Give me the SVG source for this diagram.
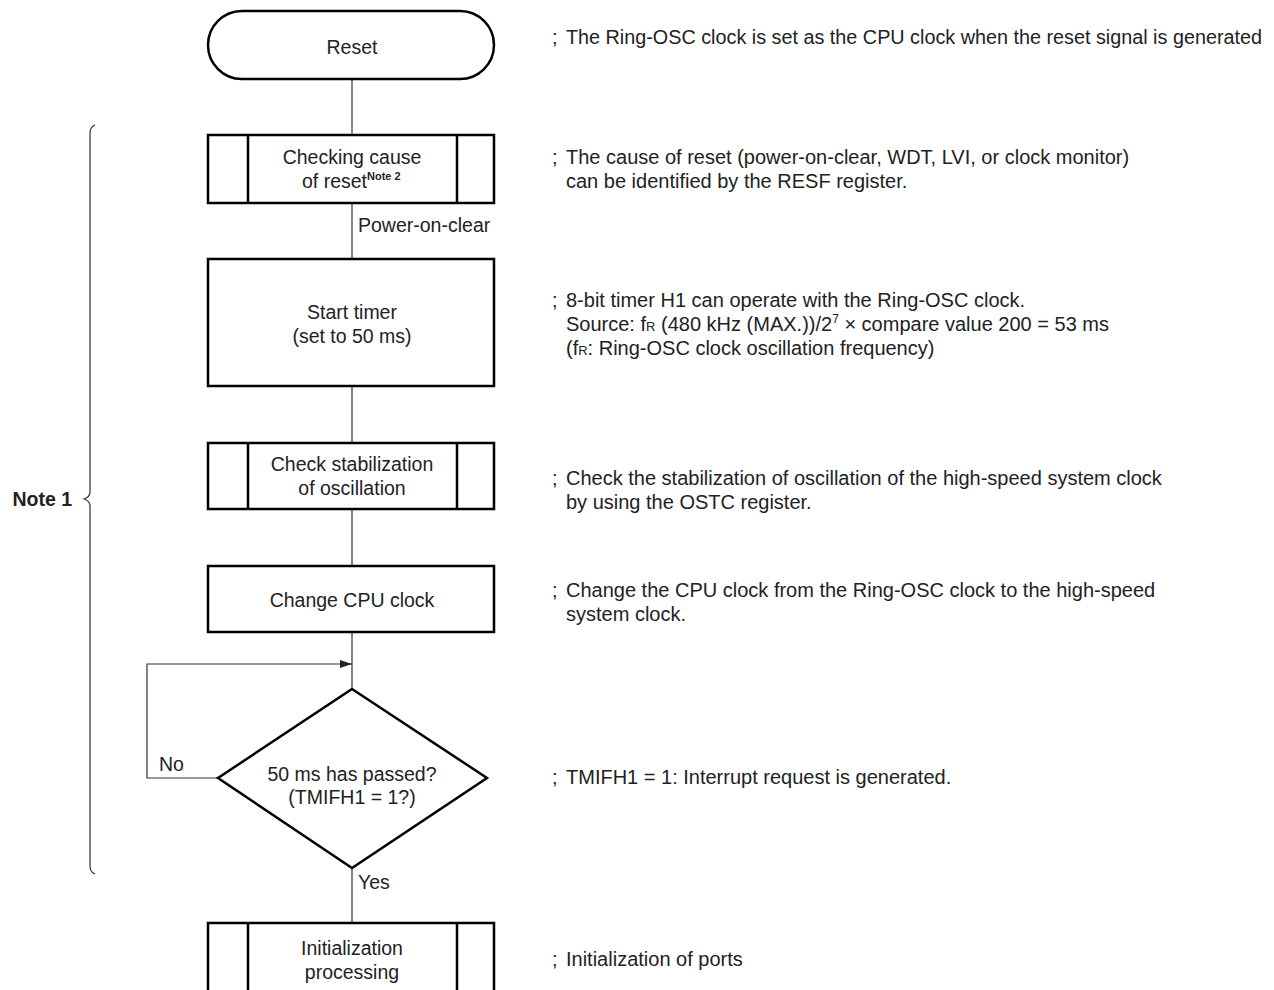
<svg xmlns="http://www.w3.org/2000/svg" width="1274" height="990" viewBox="0 0 1274 990">
<style>
.box{fill:#fff;stroke:#000;stroke-width:2.5}
.in{stroke:#000;stroke-width:2.5}
.ln{fill:none;stroke:#333;stroke-width:1.2}
text{font-family:"Liberation Sans",Arial,sans-serif;font-size:19.5px;fill:#222}
#comments text{font-size:20px}
.c{text-anchor:middle}
.b{font-weight:bold}
</style>
<defs>
<marker id="ah" markerWidth="12" markerHeight="8" refX="12" refY="4" orient="auto" markerUnits="userSpaceOnUse">
<path d="M0,0 L12,4 L0,8 Z" fill="#222"/>
</marker>
</defs>
<g id="connectors">
<path class="ln" d="M352,79 V135"/>
<path class="ln" d="M352,203 V259"/>
<path class="ln" d="M352,386 V443"/>
<path class="ln" d="M352,509 V566"/>
<path class="ln" d="M352,632 V689"/>
<path class="ln" d="M218,778 H147 V664 H352" marker-end="url(#ah)"/>
<path class="ln" d="M352,868 V923"/>
<text x="358" y="232">Power-on-clear</text>
<text x="159" y="771">No</text>
<text x="358" y="889">Yes</text>
</g>
<g id="reset">
<rect class="box" x="208" y="11" width="286" height="68" rx="34" ry="34"/>
<text class="c" x="352" y="54">Reset</text>
</g>
<g id="checking">
<rect class="box" x="208" y="135" width="286" height="68"/>
<line class="in" x1="248" y1="135" x2="248" y2="203"/>
<line class="in" x1="457" y1="135" x2="457" y2="203"/>
<text class="c" x="352" y="164">Checking cause</text>
<text x="302" y="188">of reset<tspan class="b" font-size="11" dy="-8">Note 2</tspan></text>
</g>
<g id="starttimer">
<rect class="box" x="208" y="259" width="286" height="127"/>
<text class="c" x="352" y="319">Start timer</text>
<text class="c" x="352" y="343">(set to 50 ms)</text>
</g>
<g id="checkstab">
<rect class="box" x="208" y="443" width="286" height="66"/>
<line class="in" x1="248" y1="443" x2="248" y2="509"/>
<line class="in" x1="457" y1="443" x2="457" y2="509"/>
<text class="c" x="352" y="471">Check stabilization</text>
<text class="c" x="352" y="495">of oscillation</text>
</g>
<g id="changecpu">
<rect class="box" x="208" y="566" width="286" height="66"/>
<text class="c" x="352" y="607">Change CPU clock</text>
</g>
<g id="decision">
<polygon class="box" points="352,689 487,778 352,868 218,778"/>
<text class="c" x="352" y="781">50 ms has passed?</text>
<text class="c" x="352" y="804">(TMIFH1 = 1?)</text>
</g>
<g id="init">
<rect class="box" x="208" y="923" width="286" height="80"/>
<line class="in" x1="248" y1="923" x2="248" y2="1003"/>
<line class="in" x1="457" y1="923" x2="457" y2="1003"/>
<text class="c" x="352" y="955">Initialization</text>
<text class="c" x="352" y="979">processing</text>
</g>
<g id="note1">
<path class="ln" d="M95,125 Q90,127 90,133 V492 Q90,497 84,499 Q90,501 90,506 V866 Q90,872 95,874"/>
<text class="b" x="72" y="506" font-size="17" text-anchor="end">Note 1</text>
</g>
<g id="comments">
<text x="552" y="44">;  <tspan x="566" textLength="696" lengthAdjust="spacingAndGlyphs">The Ring-OSC clock is set as the CPU clock when the reset signal is generated</tspan></text>
<text x="552" y="164">;  <tspan x="566">The cause of reset (power-on-clear, WDT, LVI, or clock monitor)</tspan></text>
<text x="566" y="188">can be identified by the RESF register.</text>
<text x="552" y="307">;  <tspan x="566">8-bit timer H1 can operate with the Ring-OSC clock.</tspan></text>
<text x="566" y="331">Source: f<tspan font-size="13">R</tspan> (480 kHz (MAX.))/2<tspan font-size="12" dy="-8">7</tspan><tspan dy="8"> × compare value 200 = 53 ms</tspan></text>
<text x="566" y="355">(f<tspan font-size="13">R</tspan>: Ring-OSC clock oscillation frequency)</text>
<text x="552" y="485">;  <tspan x="566">Check the stabilization of oscillation of the high-speed system clock</tspan></text>
<text x="566" y="509">by using the OSTC register.</text>
<text x="552" y="597">;  <tspan x="566">Change the CPU clock from the Ring-OSC clock to the high-speed</tspan></text>
<text x="566" y="621">system clock.</text>
<text x="552" y="784">;  <tspan x="566">TMIFH1 = 1: Interrupt request is generated.</tspan></text>
<text x="552" y="966">;  <tspan x="566">Initialization of ports</tspan></text>
</g>
</svg>
